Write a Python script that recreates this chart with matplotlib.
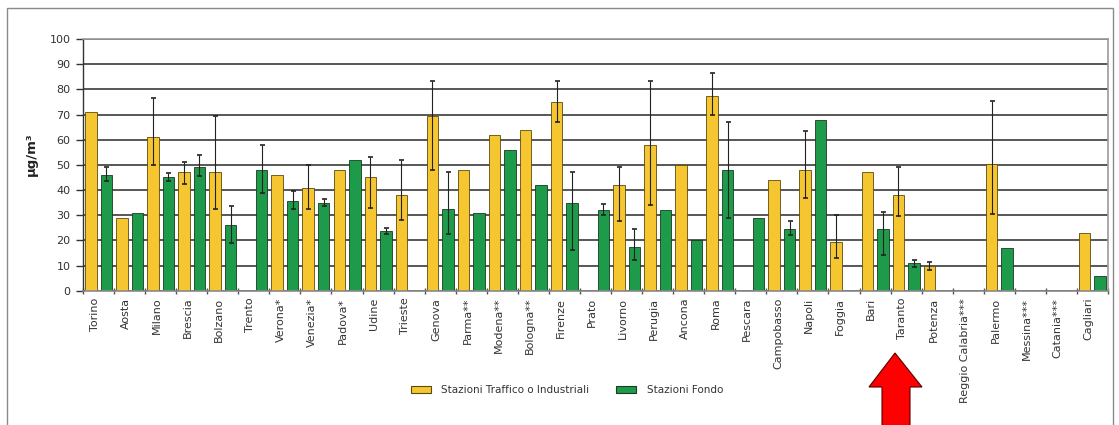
import numpy as np
import matplotlib
matplotlib.use("Agg")
import matplotlib.pyplot as plt
from matplotlib.patches import Patch, Polygon, Rectangle

nan = np.nan

cities = ["Torino", "Aosta", "Milano", "Brescia", "Bolzano", "Trento", "Verona*",
          "Venezia*", "Padova*", "Udine", "Trieste", "Genova", "Parma**", "Modena**",
          "Bologna**", "Firenze", "Prato", "Livorno", "Perugia", "Ancona", "Roma",
          "Pescara", "Campobasso", "Napoli", "Foggia", "Bari", "Taranto", "Potenza",
          "Reggio Calabria***", "Palermo", "Messina***", "Catania***", "Cagliari"]

traffic = [71, 29, 61, 47, 47, nan, 46, 41, 48, 45, 38, 69.5, 48, 62, 64, 75, nan,
           42, 58, 50, 77.5, nan, 44, 48, 19.5, 47, 38, 10, nan, 50.5, nan, nan, 23]
traffic_lo = [nan, nan, 50, 42.5, 32.5, nan, nan, 32.5, nan, 33, 28, 48, nan, nan,
              nan, 67, nan, 27.5, 34, nan, 70, nan, nan, 37, 13, nan, 29.5, 8.2,
              nan, 30.5, nan, nan, nan]
traffic_hi = [nan, nan, 76.5, 51, 69.5, nan, nan, 50, nan, 53, 52, 83.5, nan, nan,
              nan, 83.5, nan, 49, 83.5, nan, 86.5, nan, nan, 63.5, 30, nan, 49, 11.5,
              nan, 75.5, nan, nan, nan]

background = [46, 31, 45, 49, 26, 48, 35.5, 35, 52, 23.8, nan, 32.5, 31, 56, 42,
              35, 32, 17.5, 32, 20, 48, 29, 24.5, 68, nan, 24.5, 11, nan, nan, 17,
              nan, nan, 6]
background_lo = [43.5, nan, 43.5, 45.5, 19, 39, 32.5, 33.8, nan, 22.5, nan, 22.5,
                 nan, nan, nan, 16, 30, 12, nan, nan, 29, nan, 22, nan, nan, 14,
                 9.5, nan, nan, nan, nan, nan, nan]
background_hi = [49.3, nan, 46.6, 54, 33.5, 58, 39.5, 36.5, nan, 25, nan, 47.3,
                 nan, nan, nan, 47, 34.3, 24.4, nan, nan, 67, nan, 27.8, nan, nan,
                 31.4, 12.2, nan, nan, nan, nan, nan, nan]

yticks = list(range(0, 101, 10))
legend_labels = ["Stazioni Traffico o Industriali", "Stazioni Fondo"]
ylabel = "µg/m³"

YELLOW = "#F6C630"
GREEN = "#1E9A4B"

W, H = 1119, 425
fig = plt.figure(figsize=(W / 100, H / 100), dpi=100)
plt.rcParams['font.family'] = ['DejaVu Sans']

ax = fig.add_axes([83 / W, 1 - 290.7 / H, (1108 - 83) / W, (290.7 - 39) / H])

x = np.arange(len(cities))
off = 0.25
bw = 0.37

ax.set_axisbelow(True)
ax.yaxis.grid(True, color="#2a2a2a", linewidth=1.1)
ax.bar(x - off, traffic, bw, color=YELLOW, edgecolor="#5a4a10", linewidth=0.6, zorder=2)
ax.bar(x + off, background, bw, color=GREEN, edgecolor="#1a3a22", linewidth=0.6, zorder=2)

def add_err(xpos, vals, lo, hi):
    v = np.array(vals, float)
    l = np.array(lo, float)
    h = np.array(hi, float)
    m = ~np.isnan(l) & ~np.isnan(v)
    yerr = np.vstack([v[m] - l[m], h[m] - v[m]])
    ax.errorbar(xpos[m], v[m], yerr=yerr, fmt="none", ecolor="#222222",
                elinewidth=0.8, capsize=1.8, capthick=1.2, zorder=3)

add_err(x - off, traffic, traffic_lo, traffic_hi)
add_err(x + off, background, background_lo, background_hi)

ax.set_xlim(-0.5, len(cities) - 0.5)
ax.set_ylim(0, 100)
ax.set_yticks(yticks)
ax.set_yticklabels([str(t) for t in yticks], fontsize=8, color="#333333")

ax.set_xticks(np.arange(-0.5, len(cities), 1.0))
ax.set_xticklabels([])
ax.tick_params(axis="x", which="major", length=4, width=1, color="#555555", direction="inout")
ax.set_xticks(x - 0.12, minor=True)
ax.set_xticklabels(cities, minor=True, rotation=90, fontsize=8, color="#333333",
                   va="top", ha="center")
ax.tick_params(axis="x", which="minor", length=0, pad=5)
ax.tick_params(axis="y", length=5, width=1, color="#333333", pad=4)

for s in ["top", "right"]:
    ax.spines[s].set_color("#9a9a9a")
    ax.spines[s].set_linewidth(1.2)
ax.spines["left"].set_color("#333333")
ax.spines["left"].set_linewidth(1.0)
ax.spines["bottom"].set_color("#8a8a8a")
ax.spines["bottom"].set_linewidth(1.2)

fig.text(31 / W, 1 - 154 / H, ylabel, rotation=90, fontsize=9.5, fontweight="bold",
         ha="center", va="center", color="#222222")

handles = [Patch(facecolor=YELLOW, edgecolor="#5a4a10", linewidth=0.8),
           Patch(facecolor=GREEN, edgecolor="#1a3a22", linewidth=0.8)]
fig.legend(handles, legend_labels, loc="center", bbox_to_anchor=(567 / W, 1 - 390 / H),
           ncol=2, frameon=False, fontsize=7.5, handlelength=1.9, handleheight=0.6,
           handletextpad=1.0, columnspacing=2.6, labelcolor="#333333")

# outer chart frame
fig.patches.append(Rectangle((7 / W, -0.05), (1113 - 7) / W, 1.05 - 8 / H,
                             transform=fig.transFigure, fill=False,
                             edgecolor="#8a8a8a", linewidth=1.0))

# red arrow pointing to Taranto
pts = [(882, 432), (882, 387), (869, 387), (895, 353), (922, 387), (910, 387), (910, 432)]
fig.patches.append(Polygon([(px / W, 1 - py / H) for px, py in pts], closed=True,
                           transform=fig.transFigure, facecolor="#FF0000",
                           edgecolor="#550000", linewidth=0.8))

fig.savefig("out.png", dpi=100)
